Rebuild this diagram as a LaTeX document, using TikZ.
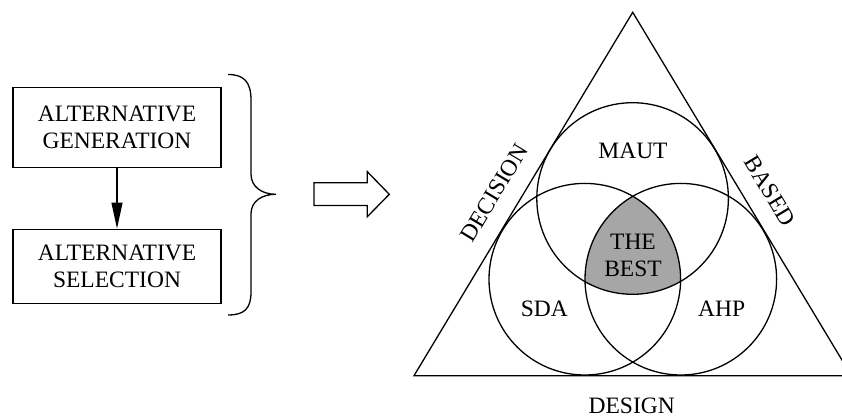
\documentclass[tikz,border=0pt]{standalone}
\usepackage{fontspec}
\setmainfont{Liberation Serif}
\usetikzlibrary{arrows.meta}

\tikzset{
  lbl/.style={font=\fontsize{23.5}{27}\selectfont, inner sep=0pt, align=center},
  stagebox/.style={draw, line width=1.3pt, minimum width=208pt, inner sep=0pt,
    font=\fontsize{23.5}{26.5}\selectfont, align=center},
  method/.style={circle, draw, line width=1.3pt, minimum size=191.6pt, inner sep=0pt},
  thin line/.style={line width=1.3pt},
}

\begin{document}
\begin{tikzpicture}[x=1pt, y=-1pt, line join=miter]
  \useasboundingbox (0,0) rectangle (842,419);

  % process boxes on the left
  \node[stagebox, minimum height=80pt] (gen) at (117,127.3) {ALTERNATIVE\\GENERATION};
  \node[stagebox, minimum height=74pt] (sel) at (117,266.2) {ALTERNATIVE\\SELECTION};
  \draw[thin line, -{Triangle[length=26pt, width=11pt]}] (gen.south) -- (sel.north);

  % curly brace grouping both boxes
  \coordinate (btop) at (228,74.5);
  \coordinate (btip) at (276,194.3);
  \coordinate (bbot) at (228,315);
  \draw[thin line] (btop) .. controls (244,74.5) and (251,82) .. (251,100)
    -- (251,174) .. controls (251,187) and (262,194.3) .. (btip)
    .. controls (262,194.3) and (251,201) .. (251,214)
    -- (251,292) .. controls (251,309) and (244,315) .. (bbot);

  % hollow block arrow
  \draw[thin line] (314,182.7) -- (367.3,182.7) -- (367.3,171.7) -- (389.3,194.3)
    -- (367.3,216.7) -- (367.3,205.5) -- (314,205.5) -- cycle;

  % triangle frame (right corner runs past the page edge)
  \begin{scope}
    \clip (0,0) rectangle (842,419);
    \coordinate (apex) at (632.7,12.3);
    \coordinate (bl) at (414,375.7);
    \coordinate (br) at (851.4,375.7);
    \draw[thin line] (apex) -- (bl) -- (br) -- cycle;
  \end{scope}

  % overlapping methods
  \coordinate (cm) at (632.6,198.5);
  \coordinate (cs) at (584.8,279.2);
  \coordinate (ca) at (680.8,279.2);
  \begin{scope}
    \clip (cm) circle (95.8);
    \clip (cs) circle (95.8);
    \fill[fill={rgb,255:red,166;green,166;blue,166}] (ca) circle (95.8);
  \end{scope}
  \node[method] (maut) at (cm) {};
  \node[method] (sda) at (cs) {};
  \node[method] (ahp) at (ca) {};

  % labels
  \node[lbl] (tmaut) at (633,150.5) {MAUT};
  \node[lbl] (tsda) at (544.3,309) {SDA};
  \node[lbl] (tahp) at (721.7,309) {AHP};
  \node[lbl] (tbest) at (633,255) {THE\\BEST};
  \node[lbl] (tdesign) at (631.7,406.3) {DESIGN};
  \node[lbl, rotate=59] (tdecision) at (494,193) {DECISION};
  \node[lbl, rotate=-59] (tbased) at (770,191) {BASED};
\end{tikzpicture}
\end{document}
